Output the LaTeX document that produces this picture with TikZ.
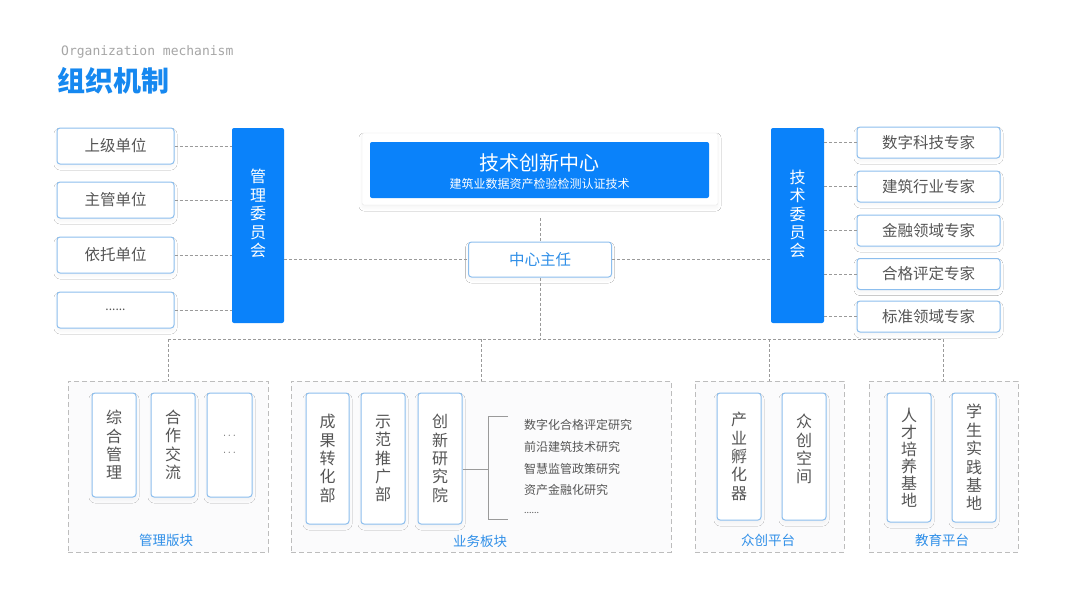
\documentclass[tikz,border=0pt]{standalone}
\usepackage{fontspec}
\setmainfont{Noto Sans CJK SC}
\newfontfamily\monof{DejaVu Sans Mono}
\usetikzlibrary{shadows.blur}
\definecolor{mainblue}{HTML}{0A82FA}
\definecolor{titleblue}{HTML}{1688F0}
\definecolor{boxblue}{HTML}{8CBEEE}
\definecolor{txtgray}{HTML}{555555}
\definecolor{lblblue}{HTML}{2F8FE8}
\definecolor{dashgray}{HTML}{9A9A9A}
\definecolor{grpgray}{HTML}{BDBDBD}
\definecolor{grpfill}{HTML}{FBFBFC}
\tikzset{
  shad/.style={blur shadow={shadow blur steps=12, shadow xshift=0pt, shadow yshift=-3pt, shadow opacity=4, shadow blur radius=3pt}},
  unitbox/.style={draw=boxblue, line width=1pt, rounded corners=3pt, fill=white, shad, text=txtgray, inner sep=0pt, font=\fontsize{15.5}{18}\selectfont},
  vbox/.style={unitbox, align=center, font=\fontsize{16}{18.4}\selectfont},
  vtext/.style={align=center, inner sep=0pt, font=\fontsize{16}{18.4}\selectfont},
  bar/.style={fill=mainblue, rounded corners=2pt, inner sep=0pt},
  conn/.style={draw=dashgray, line width=0.8pt, dash pattern=on 3pt off 2pt},
  grp/.style={draw=grpgray, line width=0.9pt, dash pattern=on 5pt off 3pt, fill=grpfill, inner sep=0pt},
  grplabel/.style={text=lblblue, font=\fontsize{13.5}{16}\selectfont, inner sep=0pt},
  reslabel/.style={text=txtgray, font=\fontsize{12}{14}\selectfont, anchor=west, inner sep=0pt},
}
\begin{document}
\begin{tikzpicture}[x=1pt,y=-1pt]
\useasboundingbox[fill=white] (0,0) rectangle (1080,608);

% title
\node[anchor=west, inner sep=0pt, text=gray!70, font=\monof\fontsize{13}{15}\selectfont] (t1) at (61,52) {Organization mechanism};
\node[anchor=west, inner sep=0pt, text=titleblue, font=\bfseries\fontsize{28}{32}\selectfont] (t2) at (57,81) {组织机制};

% left units
\node[unitbox, minimum width=117pt, minimum height=36pt] (u1) at (115.5,146) {上级单位};
\node[unitbox, minimum width=117pt, minimum height=36pt] (u2) at (115.5,200) {主管单位};
\node[unitbox, minimum width=117pt, minimum height=36pt] (u3) at (115.5,255) {依托单位};
\node[unitbox, minimum width=117pt, minimum height=36pt, font=\fontsize{12}{14}\selectfont] (u4) at (115.5,310) {......};

% bars
\node[bar, minimum width=52pt, minimum height=195pt] (m1) at (258,225.5) {};
\node[vtext, text=white] (m1t) at (258,213.5) {管\\理\\委\\员\\会};
\node[bar, minimum width=53pt, minimum height=195pt] (m2) at (797.5,225.5) {};
\node[vtext, text=white] (m2t) at (797.5,214) {技\\术\\委\\员\\会};

% center
\node[draw=black!10, fill=white, rounded corners=2pt, shad, minimum width=356pt, minimum height=72pt, inner sep=0pt] (tco) at (540,169) {};
\node[bar, minimum width=339pt, minimum height=56pt] (tci) at (539.5,170) {};
\node[text=white, inner sep=0pt, font=\fontsize{20}{22}\selectfont] (tct) at (539.5,163) {技术创新中心};
\node[text=white, inner sep=0pt, font=\fontsize{12}{14}\selectfont] (tcs) at (539.5,184) {建筑业数据资产检验检测认证技术};
\node[unitbox, text=lblblue, minimum width=143pt, minimum height=35pt] (c) at (540,259.5) {中心主任};

% right experts
\node[unitbox, minimum width=143pt, minimum height=31pt] (e1) at (928.5,142.5) {数字科技专家};
\node[unitbox, minimum width=143pt, minimum height=31pt] (e2) at (928.5,186.5) {建筑行业专家};
\node[unitbox, minimum width=143pt, minimum height=31pt] (e3) at (928.5,230.5) {金融领域专家};
\node[unitbox, minimum width=143pt, minimum height=31pt] (e4) at (928.5,274) {合格评定专家};
\node[unitbox, minimum width=143pt, minimum height=31pt] (e5) at (928.5,316.5) {标准领域专家};

% connectors top
\foreach \u in {u1,u2,u3,u4} \draw[conn] (\u.east) -- (\u.east -| m1.west);
\foreach \e in {e1,e2,e3,e4,e5} \draw[conn] (\e.west) -- (\e.west -| m2.east);
\draw[conn] (m1.east |- c.west) -- (c.west);
\draw[conn] (c.east) -- (c.east -| m2.west);
\draw[conn, shorten <=13pt] (tco.south) -- (c.north);

% groups
\node[grp, minimum width=200pt, minimum height=171pt] (g1) at (168,466.5) {};
\node[grp, minimum width=380pt, minimum height=171pt] (g2) at (481,466.5) {};
\node[grp, minimum width=149pt, minimum height=171pt] (g3) at (769.5,466.5) {};
\node[grp, minimum width=149pt, minimum height=171pt] (g4) at (943.5,466.5) {};

% bus
\coordinate (busy) at (0,339);
\draw[conn] (c.south) -- (c.south |- busy);
\draw[conn] (g1.north |- busy) -- (g4.north |- busy);
\foreach \g in {g1,g2,g3,g4} \draw[conn] (\g.north |- busy) -- (\g.north);

% group 1
\node[vbox, minimum width=44pt, minimum height=104pt] (a1) at (114,445) {综\\合\\管\\理};
\node[vbox, minimum width=44pt, minimum height=104pt] (a2) at (173,445) {合\\作\\交\\流};
\node[vbox, minimum width=45pt, minimum height=104pt, font=\fontsize{11}{17}\selectfont] (a3) at (229.5,445) {$\cdots$\\$\cdots$};
\node[grplabel] (l1) at (166,540) {管理版块};

% group 2
\node[vbox, minimum width=43pt, minimum height=131pt] (b1) at (327.5,458.5) {成\\果\\转\\化\\部};
\node[vbox, minimum width=44pt, minimum height=131pt] (b2) at (383,458.5) {示\\范\\推\\广\\部};
\node[vbox, minimum width=44pt, minimum height=131pt] (b3) at (440,458.5) {创\\新\\研\\究\\院};
\node[reslabel] (r1) at (524,425) {数字化合格评定研究};
\node[reslabel] (r2) at (524,447) {前沿建筑技术研究};
\node[reslabel] (r3) at (524,469) {智慧监管政策研究};
\node[reslabel] (r4) at (524,490) {资产金融化研究};
\node[reslabel, font=\fontsize{9}{10}\selectfont] (r5) at (524,513) {......};
\coordinate (brm) at (488,469);
\draw[draw=dashgray, line width=0.8pt] (b3.east |- brm) -- (brm);
\draw[draw=dashgray, line width=0.8pt] (508,416) -- (488,416) -- (488,519) -- (508,519);
\node[grplabel] (l2) at (480,541) {业务板块};

% group 3
\node[vbox, minimum width=44pt, minimum height=127pt] (d1) at (739,456.5) {产\\业\\孵\\化\\器};
\node[unitbox, minimum width=44pt, minimum height=127pt] (d2) at (804,456.5) {};
\node[vtext, text=txtgray, anchor=north] (d2t) at (804,414) {众\\创\\空\\间};
\node[grplabel] (l3) at (768,540) {众创平台};

% group 4
\node[vbox, minimum width=44pt, minimum height=129pt, font=\fontsize{16}{17}\selectfont] (f1) at (909,457.5) {人\\才\\培\\养\\基\\地};
\node[vbox, minimum width=44pt, minimum height=129pt] (f2) at (974,457.5) {学\\生\\实\\践\\基\\地};
\node[grplabel] (l4) at (942,540) {教育平台};
\end{tikzpicture}
\end{document}
